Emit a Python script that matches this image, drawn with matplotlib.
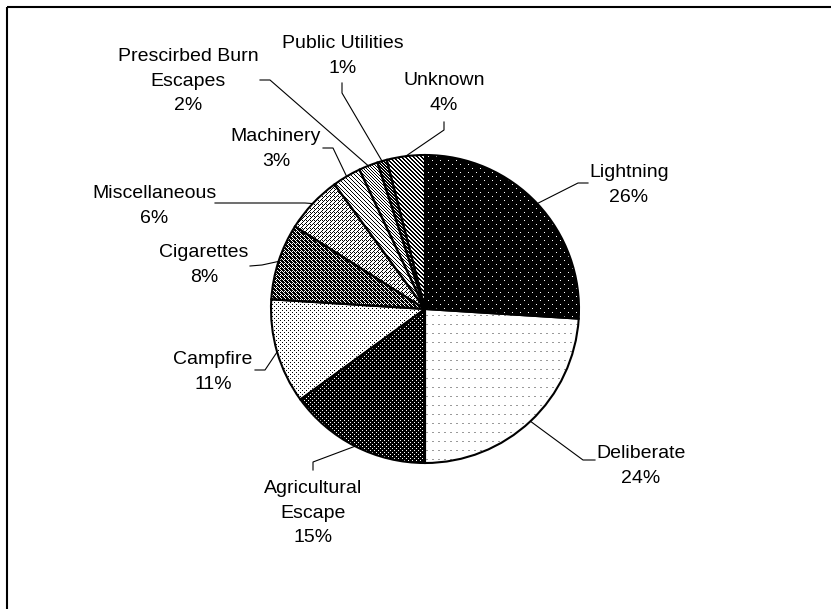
import numpy as np
import matplotlib
matplotlib.use("Agg")
import matplotlib.pyplot as plt

# wildfire causes, share of fires (%)
causes = ["Lightning", "Deliberate", "Agricultural\nEscape", "Campfire", "Cigarettes",
          "Miscellaneous", "Machinery", "Prescirbed Burn\nEscapes", "Public Utilities", "Unknown"]
shares = [26, 24, 15, 11, 8, 6, 3, 2, 1, 4]

W, H = 831, 609
CX, CY, R = 425, 309, 154   # pie centre / radius in pixels (y measured from top)

# label block centre, leader elbow and leader end (pixels, y from top)
label_pos = [(629, 185), (641, 466), (313, 513), (213, 372), (204, 265),
             (154, 206), (276, 149), (188, 81), (343, 56), (444, 93)]
leader_pts = [[(578, 183), (588, 183)], [(583, 460), (595, 460)], [(313, 462), (313, 470)],
              [(265, 370), (255, 370)], [(262, 265), (250, 266)], [(305, 203), (215, 203)],
              [(333, 148), (323, 148)], [(270, 80), (260, 80)], [(342, 93), (342, 83)],
              [(444, 130), (444, 122)]]


def diag(period, width):
    t = np.zeros((period, period), int)
    for y in range(period):
        for x in range(period):
            if (x - y) % period < width:
                t[y, x] = 1
    return t


def checker(extra=(), remove=()):
    t = np.array([[1 if (i + j) % 2 == 0 else 0 for j in range(4)] for i in range(4)])
    for i, j in extra:
        t[i, j] = 1
    for i, j in remove:
        t[i, j] = 0
    return t


# (tile of 1 = ink, ink colour, paper colour)
dots_sparse = np.zeros((8, 8), int); dots_sparse[0, 0] = dots_sparse[4, 4] = 1
dots_dense = np.zeros((4, 4), int); dots_dense[0, 0] = dots_dense[2, 2] = 1
dashes = np.zeros((9, 6), int); dashes[0, 0:2] = 1
patterns = [
    (dots_sparse, "white", "black"),
    (dashes, "#9a9a9a", "white"),
    (dots_dense, "white", "black"),
    (dots_dense, "black", "white"),
    (checker(extra=[(0, 1), (2, 3), (1, 2)]), "black", "white"),
    (checker(remove=[(1, 1), (3, 3), (2, 0)]), "black", "white"),
    (diag(4, 1), "black", "white"),
    (diag(3, 1), "black", "white"),
    (diag(3, 2), "black", "white"),
    (diag(4, 2), "black", "white"),
]


def pattern_image(tile, ink, paper):
    reps = (H // tile.shape[0] + 1, W // tile.shape[1] + 1)
    mask = np.tile(tile, reps)[:H, :W].astype(bool)
    img = np.empty((H, W, 3))
    img[:] = matplotlib.colors.to_rgb(paper)
    img[mask] = matplotlib.colors.to_rgb(ink)
    return img


fig = plt.figure(figsize=(W / 100, H / 100), dpi=100)
ax = fig.add_axes([0, 0, 1, 1])

wedges, _ = ax.pie(shares, startangle=90, counterclock=False, center=(CX, H - CY), radius=R,
                   colors=["none"] * len(shares),
                   wedgeprops=dict(edgecolor="black", linewidth=1.5))

for w, (tile, ink, paper) in zip(wedges, patterns):
    im = ax.imshow(pattern_image(tile, ink, paper), extent=(0, W, 0, H), origin="upper",
                   interpolation="nearest", zorder=0.5)
    im.set_clip_path(w)

for w, name, share, (lx, ly), pts in zip(wedges, causes, shares, label_pos, leader_pts):
    ang = np.deg2rad((w.theta1 + w.theta2) / 2)
    xs = [CX + R * np.cos(ang)] + [p[0] for p in pts]
    ys = [H - CY + R * np.sin(ang)] + [H - p[1] for p in pts]
    ax.plot(xs, ys, color="black", lw=0.8, zorder=3)
    ax.text(lx, H - ly, f"{name}\n{share}%", ha="center", va="center", fontsize=14,
            family="Liberation Sans", linespacing=1.55, multialignment="center")

# chart area border (top and left edges)
ax.plot([7, W], [H - 7, H - 7], color="black", lw=1.5, solid_capstyle="butt")
ax.plot([7, 7], [H - 7, 0], color="black", lw=1.5, solid_capstyle="butt")

ax.set_xlim(0, W)
ax.set_ylim(0, H)
ax.set_aspect("auto")
ax.axis("off")

fig.savefig("out.png", dpi=100)
